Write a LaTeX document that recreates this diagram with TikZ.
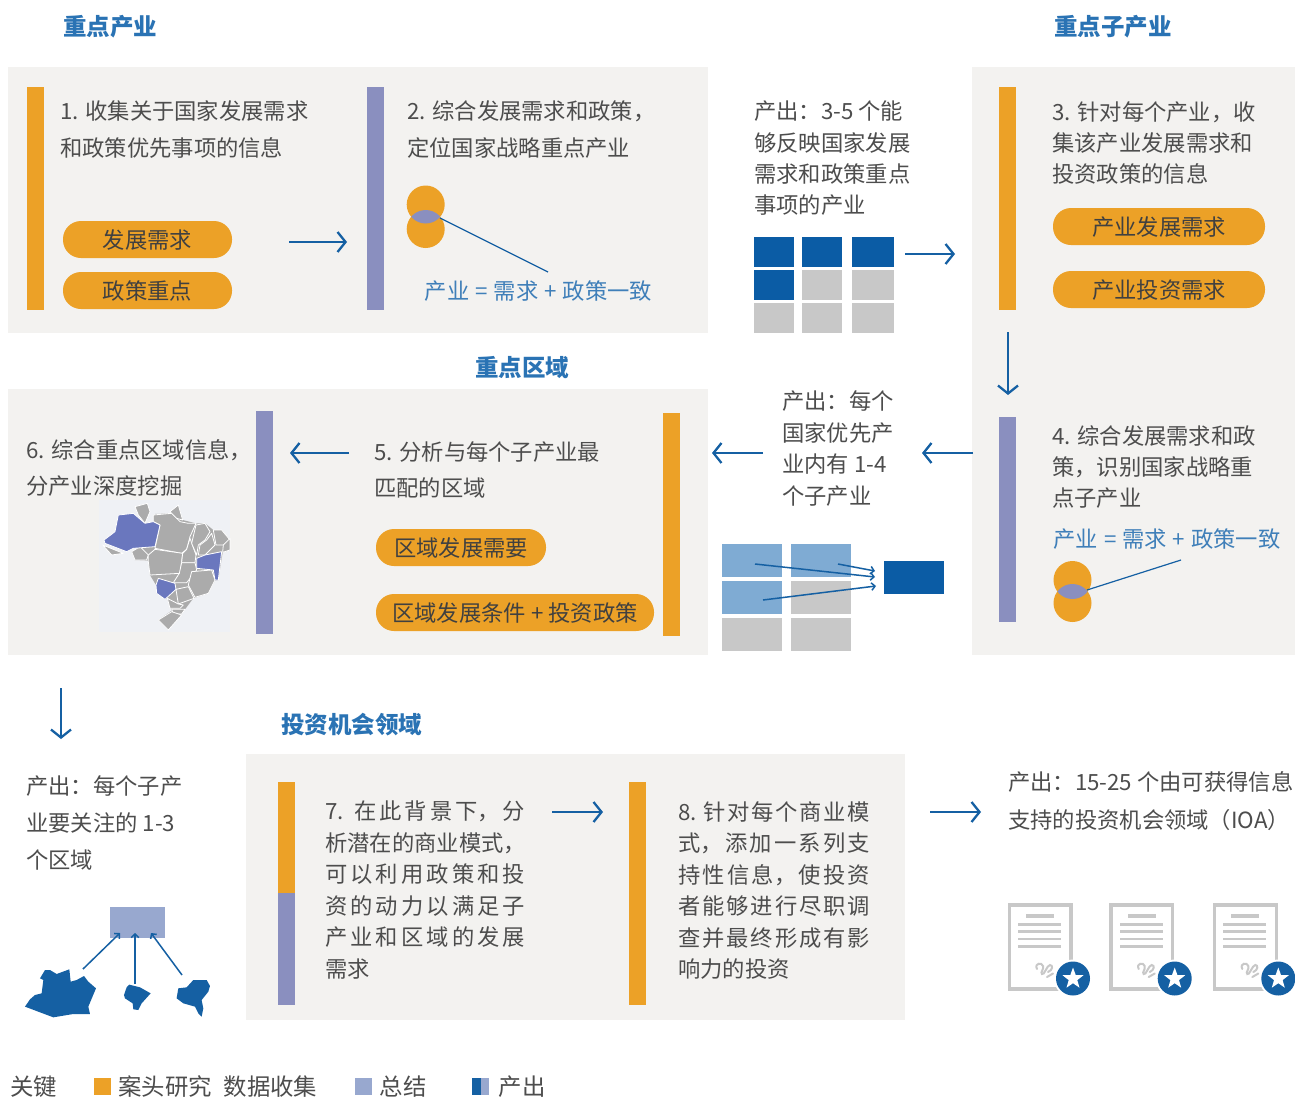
\documentclass[tikz,border=0pt]{standalone}
\usepackage{fontspec}
\setmainfont{Noto Sans CJK SC}
\usetikzlibrary{arrows.meta}
\definecolor{bgp}{HTML}{F3F2F0}
\definecolor{org}{HTML}{ECA127}
\definecolor{pur}{HTML}{8A8FBF}
\definecolor{lgt}{HTML}{98A8CF}
\definecolor{dblue}{HTML}{0B5CA5}
\definecolor{arr}{HTML}{1560A3}
\definecolor{gry}{HTML}{C8C8C8}
\definecolor{lblue}{HTML}{7FABD3}
\definecolor{txt}{HTML}{4D4D4D}
\definecolor{tit}{HTML}{2A73B4}
\definecolor{eqc}{HTML}{3F7FB9}
\definecolor{mapg}{HTML}{ABABAB}
\definecolor{mapb}{HTML}{6A77BE}
\definecolor{mapbg}{HTML}{EFF1F5}
\newcommand{\sz}[1]{\fontsize{22.3}{#1}\selectfont}
\newcommand{\jl}[1]{\hbox to 200pt{\spaceskip=0pt plus 1fil\relax #1}}
\newcommand{\jm}[1]{\hbox to 192pt{\spaceskip=0pt plus 1fil\relax #1}}
\tikzset{
 x=1pt,y=-1pt,
 panel/.style={fill=bgp,draw=none},
 body/.style={text=txt,inner sep=0pt,anchor=north west,align=left},
 title/.style={text=tit,inner sep=0pt,font=\fontsize{23.5}{28}\selectfont\bfseries},
 eq/.style={text=eqc,inner sep=0pt,font=\sz{26}},
 pill/.style={draw=none,fill=org,rounded corners=18pt},
 pilltext/.style={text=black!75,inner sep=0pt,font=\sz{26}},
 flow/.style={draw=arr,line width=2.3pt,-{Straight Barb[length=8pt,width=20pt,line width=2.3pt]}},
 thin/.style={draw=arr,line width=1.5pt,-{Straight Barb[length=3.5pt,width=7.5pt,line width=1.5pt]}},
 leg/.style={text=txt,inner sep=0pt,anchor=west,font=\fontsize{23.4}{28}\selectfont},
 st/.style={fill=mapg,draw=white,line width=0.8pt,line join=round},
 sb/.style={fill=mapb,draw=white,line width=0.8pt,line join=round},
 small/.style={fill=arr,draw=none,line join=round},
}
\newcommand{\flowarrow}[3]{\coordinate (#1s) at #2; \coordinate (#1e) at #3; \draw[flow] (#1s) -- (#1e);}
\newcommand{\thinarrow}[3]{\coordinate (#1s) at #2; \coordinate (#1e) at #3; \draw[thin] (#1s) -- (#1e);}
\newcommand{\docicon}[1]{%
 \begin{scope}[shift={(#1,895)}]
  \draw[gry,line width=3.2pt] (9.3,10) rectangle (71,94);
  \fill[gry] (26,18.5) rectangle (54,23);
  \foreach \yy in {29.5,36.5,44,51.5}{\fill[gry] (18,\yy-1.4) rectangle (61,\yy+1.4);}
  \draw[gry,line width=2pt,line cap=round] (37,74) .. controls (34,68) and (42,67) .. (43,71) .. controls (44,75) and (40,77) .. (42,79) .. controls (44,81) and (47,70) .. (50,70) .. controls (53,70) and (53,75) .. (48,77) (47,82) -- (53,78.5);
  \fill[white] (73,83.5) circle (19);
  \fill[arr] (73,83.5) circle (17);
  \fill[white] (73,72.5) -- (75.7,80) -- (83.5,80.2) -- (77.3,85.1) -- (79.5,92.7) -- (73,88.2) -- (66.5,92.7) -- (68.7,85.1) -- (62.5,80.2) -- (70.3,80) -- cycle;
 \end{scope}}
\newcommand{\venn}[3]{%
 \fill[org] (#1,#2) circle (19);
 \fill[org] (#1,#3) circle (19);
 \begin{scope}
  \clip (#1,#2) circle (19);
  \fill[pur] (#1,#3) circle (19);
 \end{scope}}
\begin{document}
\begin{tikzpicture}
\useasboundingbox (0,0) rectangle (1295,1098);
\fill[white] (0,0) rectangle (1295,1098);
% panels
\path[panel] (8,67) rectangle (708,333);
\path[panel] (972,67) rectangle (1295,655);
\path[panel] (8,389) rectangle (708,655);
\path[panel] (246,754) rectangle (905,1020);
% bars
\fill[org] (27,87) rectangle (44,310);
\fill[pur] (367,87) rectangle (384,310);
\fill[org] (999,87) rectangle (1016,310);
\fill[pur] (999,417) rectangle (1016,622);
\fill[pur] (256,411) rectangle (273,634);
\fill[org] (663,413) rectangle (680,636);
\fill[org] (278,782) rectangle (295,893);
\fill[pur] (278,893) rectangle (295,1005);
\fill[org] (629,782) rectangle (646,1005);
% titles
\node[title,anchor=west] (t1) at (63,27) {重点产业};
\node[title,anchor=west] (t2) at (1054,27) {重点子产业};
\node[title,anchor=west] (t3) at (475,368) {重点区域};
\node[title,anchor=west] (t4) at (281,725) {投资机会领域};
% body texts
\node[body,font=\sz{37}] (b1) at (60,100.5) {1. 收集关于国家发展需求\\和政策优先事项的信息};
\node[body,font=\sz{37}] (b2) at (407,100.5) {2. 综合发展需求和政策，\\定位国家战略重点产业};
\node[body,font=\sz{31.3}] (o1) at (754,101) {产出：3-5 个能\\够反映国家发展\\需求和政策重点\\事项的产业};
\node[body,font=\sz{31.3}] (b3) at (1052,101) {3. 针对每个产业，收\\集该产业发展需求和\\投资政策的信息};
\node[body,font=\sz{31.3}] (b4) at (1052,425) {4. 综合发展需求和政\\策，识别国家战略重\\点子产业};
\node[body,font=\sz{31.5}] (o2) at (782,390.5) {产出：每个\\国家优先产\\业内有 1-4\\个子产业};
\node[body,font=\sz{36}] (b5) at (374,441.5) {5. 分析与每个子产业最\\匹配的区域};
\node[body,font=\sz{36}] (b6) at (26,439.5) {6. 综合重点区域信息，\\分产业深度挖掘};
\node[body,font=\sz{37}] (o3) at (26,775.5) {产出：每个子产\\业要关注的 1-3\\个区域};
\node[body,font=\sz{31.5}] (b7) at (325,801) {\jl{7. 在 此 背 景 下， 分}\\\jl{析 潜 在 的 商 业 模 式，}\\\jl{可 以 利 用 政 策 和 投}\\\jl{资 的 动 力 以 满 足 子}\\\jl{产 业 和 区 域 的 发 展}\\需求};
\node[body,font=\sz{31.5}] (b8) at (678,801) {\jm{8. 针 对 每 个 商 业 模}\\\jm{式， 添 加 一 系 列 支}\\\jm{持 性 信 息， 使 投 资}\\\jm{者 能 够 进 行 尽 职 调}\\\jm{查 并 最 终 形 成 有 影}\\响力的投资};
\node[body,font=\sz{38}] (o4) at (1008,771) {产出：15-25 个由可获得信息\\支持的投资机会领域（IOA）};
% equations
\node[eq] (e1) at (538.5,291) {产业\hspace{1pt} = \hspace{1pt}需求\hspace{1pt} + \hspace{1pt}政策一致};
\node[eq] (e2) at (1167,539) {产业\hspace{1pt} = \hspace{1pt}需求\hspace{1pt} + \hspace{1pt}政策一致};
% pills
\path[pill] (63,221) rectangle (232,258);
\node[pilltext] (p1) at (147.5,240) {发展需求};
\path[pill] (63,272) rectangle (232,309);
\node[pilltext] (p2) at (147.5,291) {政策重点};
\path[pill] (1053,208) rectangle (1265,245);
\node[pilltext] (p3) at (1159,227.5) {产业发展需求};
\path[pill] (1053,271) rectangle (1265,308);
\node[pilltext] (p4) at (1159,290.5) {产业投资需求};
\path[pill] (376,529) rectangle (546,566);
\node[pilltext] (p5) at (461,548.5) {区域发展需要};
\path[pill] (376,594) rectangle (654,631);
\node[pilltext] (p6) at (515,613.5) {区域发展条件 + 投资政策};
% venn
\venn{425.7}{204.5}{229}
\coordinate (v1a) at (440,218); \coordinate (v1b) at (548,272);
\draw[arr,line width=1.2pt] (v1a) -- (v1b);
\venn{1072.5}{580}{603}
\coordinate (v2a) at (1087,590); \coordinate (v2b) at (1181,560);
\draw[arr,line width=1.2pt] (v2a) -- (v2b);
% flow arrows
\flowarrow{f1}{(289,242)}{(347,242)}
\flowarrow{f2}{(905,254)}{(955,254)}
\flowarrow{f3}{(1008,332)}{(1008,395)}
\flowarrow{f4}{(973,453)}{(922,453)}
\flowarrow{f5}{(763,453)}{(712,453)}
\flowarrow{f6}{(349,453)}{(290,453)}
\flowarrow{f7}{(61,688)}{(61,739)}
\flowarrow{f8}{(552,812)}{(603,812)}
\flowarrow{f9}{(930,812)}{(981,812)}
% grid 1
\fill[dblue] (754,237) rectangle (794,267);
\fill[dblue] (802,237) rectangle (842,267);
\fill[dblue] (852,237) rectangle (894,267);
\fill[dblue] (754,270) rectangle (794,300);
\fill[gry] (802,270) rectangle (842,300);
\fill[gry] (852,270) rectangle (894,300);
\fill[gry] (754,303) rectangle (794,333);
\fill[gry] (802,303) rectangle (842,333);
\fill[gry] (852,303) rectangle (894,333);
% grid 2
\fill[lblue] (722,544) rectangle (782,577);
\fill[lblue] (791,544) rectangle (851,577);
\fill[lblue] (722,581) rectangle (782,614);
\fill[gry] (791,581) rectangle (851,614);
\fill[gry] (722,618) rectangle (782,651);
\fill[gry] (791,618) rectangle (851,651);
\fill[dblue] (884,561) rectangle (944,594);
\thinarrow{g1}{(755,564)}{(875,577)}
\thinarrow{g2}{(838,564)}{(875,571)}
\thinarrow{g3}{(763,600)}{(876,586)}
% Brazil map
\begin{scope}[shift={(90,490)},x=0.3333pt,y=-0.3333pt]
 \fill[mapbg] (28,30) rectangle (420,425);
 % silhouette
 \fill[mapg] (195,72)--(245,70)--(265,45)--(278,90)--(318,100)--(345,100)--(370,120)--(395,120)--(420,150)--(420,180)--(398,187)--(385,270)--(375,272)--(355,310)--(310,325)--(285,358)--(275,372)--(235,420)--(205,390)--(245,362)--(232,328)--(200,310)--(198,285)--(180,255)--(175,212)--(135,210)--(125,185)--(175,170)--(210,105)--cycle;
 \path[st] (135,50)--(172,40)--(180,65)--(165,100)--(145,75)--cycle;
 \path[st] (38,165)--(100,190)--(65,195)--cycle;
 \path[st] (125,185)--(150,170)--(175,195)--(170,210)--(135,210)--cycle;
 \path[st] (190,75)--(245,70)--(270,95)--(295,100)--(318,100)--(300,140)--(290,178)--(275,190)--(195,175)--(210,105)--(190,95)--cycle;
 \path[st] (240,65)--(265,45)--(278,90)--(260,85)--cycle;
 \path[st] (175,195)--(195,178)--(278,190)--(270,250)--(180,255)--(175,215)--cycle;
 \path[st] (300,145)--(318,195)--(315,218)--(275,218)--(278,190)--(290,178)--cycle;
 \path[st] (318,105)--(345,100)--(360,125)--(345,150)--(325,165)--(320,195)--(305,160)--cycle;
 \path[st] (325,195)--(330,165)--(350,150)--(365,130)--(375,165)--(345,195)--cycle;
 \path[st] (370,120)--(395,120)--(420,150)--(400,165)--(378,165)--cycle;
 \path[st] (400,165)--(420,145)--(420,180)--(398,187)--cycle;
 \path[st] (275,218)--(315,218)--(320,240)--(290,278)--(250,278)--(268,250)--cycle;
 \path[st] (305,245)--(365,240)--(375,270)--(355,310)--(315,322)--(295,285)--cycle;
 \path[st] (258,298)--(295,290)--(312,325)--(265,342)--cycle;
 \path[st] (232,325)--(265,342)--(280,345)--(270,355)--(240,355)--cycle;
 \path[st] (245,358)--(285,358)--(275,372)--(250,372)--cycle;
 \path[st] (205,390)--(245,365)--(275,375)--(235,420)--cycle;
 \path[sb] (42,150)--(75,125)--(85,75)--(130,70)--(165,100)--(190,95)--(210,105)--(195,170)--(130,175)--(110,185)--(45,160)--cycle;
 \path[sb] (320,205)--(345,195)--(395,185)--(385,270)--(375,270)--(370,240)--(320,235)--cycle;
 \path[sb] (198,285)--(205,265)--(255,280)--(258,298)--(225,328)--(200,310)--cycle;
\end{scope}
% bottom-left
\fill[lgt] (110,907) rectangle (165,938);
\begin{scope}[shift={(10,900)},x=0.3333pt,y=-0.3333pt]
 \path[small] (45,320)--(60,298)--(75,285)--(95,280)--(100,240)--(90,235)--(105,210)--(120,210)--(140,222)--(178,208)--(182,245)--(200,240)--(222,228)--(235,245)--(258,265)--(235,320)--(240,342)--(190,342)--(130,352)--cycle;
 \path[small] (342,285)--(350,262)--(358,254)--(390,262)--(422,280)--(395,310)--(385,330)--(370,328)--(368,310)--(345,295)--cycle;
 \path[small] (500,295)--(505,265)--(530,262)--(550,240)--(590,240)--(600,258)--(595,275)--(575,300)--(580,325)--(575,350)--(565,340)--(555,320)--(520,310)--cycle;
\end{scope}
\thinarrow{h1}{(83,969)}{(120,933)}
\thinarrow{h2}{(135,984)}{(135,933)}
\thinarrow{h3}{(182,975)}{(151,933)}
% documents
\docicon{1000}
\docicon{1101.7}
\docicon{1205.3}
% legend
\node[leg] (l1) at (10,1087) {关键};
\fill[org] (94,1078) rectangle (111,1095);
\node[leg] (l2) at (118,1087) {案头研究\hspace{12pt}数据收集};
\fill[lgt] (355,1078) rectangle (372,1095);
\node[leg] (l3) at (379.5,1087) {总结};
\fill[arr] (472,1078) rectangle (481,1095);
\fill[lgt] (481,1078) rectangle (489,1095);
\node[leg] (l4) at (498.5,1087) {产出};
\end{tikzpicture}
\end{document}
